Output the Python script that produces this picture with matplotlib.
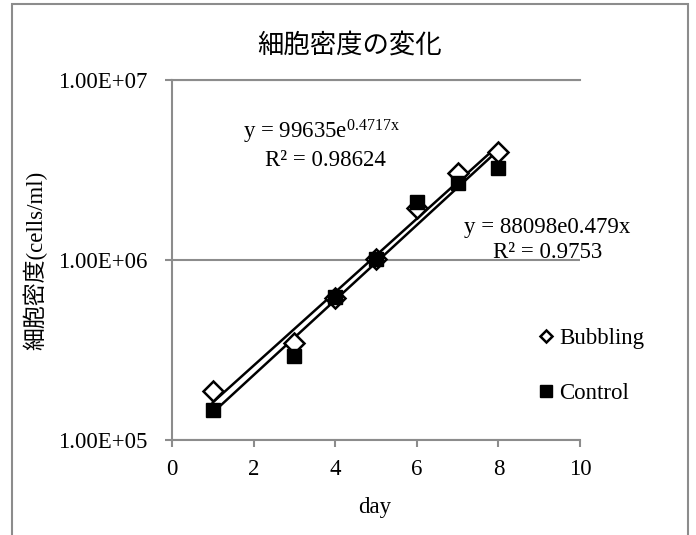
import numpy as np
import matplotlib
matplotlib.use("Agg")
import matplotlib.pyplot as plt
from matplotlib.lines import Line2D
from matplotlib.patches import Rectangle
from matplotlib.ticker import FixedLocator, FuncFormatter

plt.rcParams["mathtext.fontset"] = "custom"
plt.rcParams["mathtext.rm"] = "Liberation Serif"
plt.rcParams["mathtext.it"] = "Liberation Serif"

# ---- data ----
days = [1, 3, 4, 5, 6, 7, 8]
bubbling = [1.86e5, 3.44e5, 6.18e5, 1.01e6, 1.94e6, 3.03e6, 4.0e6]
control = [1.47e5, 2.93e5, 6.2e5, 1.01e6, 2.11e6, 2.67e6, 3.23e6]
series_names = ["Bubbling", "Control"]
title = "細胞密度の変化"
ylabel = "細胞密度(cells/ml)"
xlabel = "day"
eq_bubbling = [r"y = 99635e$^{\mathrm{0.4717x}}$", "R² = 0.98624"]
eq_control = ["y = 88098e0.479x", "R² = 0.9753"]
xticks = [0, 2, 4, 6, 8, 10]
yticks = [1e5, 1e6, 1e7]

SERIF = ["Liberation Serif", "Noto Sans CJK JP"]
CJK = ["Noto Sans CJK JP", "DejaVu Sans"]
GRAY = "#8c8c8c"
FS = 16.5

fig = plt.figure(figsize=(6.96, 5.35), dpi=100)
ax = fig.add_axes([172/696, 1-440/535, (580-172)/696, (440-80)/535])

ax.set_yscale("log")
ax.set_ylim(1e5, 1e7)
ax.set_xlim(0, 10)

# trendlines (exponential fit, least squares on log)
xs = np.linspace(min(days), max(days), 50)
for vals in (bubbling, control):
    b, a = np.polyfit(days, np.log(vals), 1)
    ax.plot(xs, np.exp(a) * np.exp(b * xs), color="black", lw=1.8, zorder=3)

ax.plot(days, bubbling, linestyle="none", marker="D", markersize=10,
        markerfacecolor="white", markeredgecolor="black", markeredgewidth=1.8, zorder=4)
ax.plot(days, control, linestyle="none", marker="s", markersize=10,
        markerfacecolor="black", markeredgecolor="black", zorder=5)

# axes styling
for s in ["top", "right"]:
    ax.spines[s].set_visible(False)
for s in ["left", "bottom"]:
    ax.spines[s].set_color(GRAY)
    ax.spines[s].set_linewidth(1.5)
ax.yaxis.set_major_locator(FixedLocator(yticks))
ax.yaxis.set_minor_locator(FixedLocator([]))
ax.yaxis.set_major_formatter(FuncFormatter(
    lambda v, p: "%.2fE+%02d" % (v / 10**int(round(np.log10(v))), int(round(np.log10(v))))))
ax.set_xticks(xticks)
ax.set_xticklabels([str(t) for t in xticks])
ax.tick_params(axis="both", which="major", direction="out", length=5, width=1.5,
               color=GRAY, labelsize=FS)
ax.tick_params(axis="y", pad=13)
ax.tick_params(axis="x", pad=9)
for lab in ax.get_xticklabels() + ax.get_yticklabels():
    lab.set_family(SERIF)
ax.grid(axis="y", which="major", color=GRAY, lw=1.5)
ax.set_axisbelow(True)
ax.axhline(1e7, color=GRAY, lw=1.5, clip_on=False, zorder=1)

# texts
fig.text(350/696, 1-45/535, title, ha="center", va="center", fontsize=19, family=CJK)
fig.text(35/696, 1-260/535, ylabel, ha="center", va="center", rotation=90,
         fontsize=16.5, family=SERIF)
fig.text(375/696, 1-508/535, xlabel, ha="center", va="center", fontsize=FS,
         family=SERIF)

fig.text(322/696, 1-132/535, eq_bubbling[0], ha="center", va="center", fontsize=FS, family=SERIF)
fig.text(325/696, 1-160/535, eq_bubbling[1], ha="center", va="center", fontsize=FS, family=SERIF)
fig.text(547/696, 1-227/535, eq_control[0], ha="center", va="center", fontsize=FS, family=SERIF)
fig.text(548/696, 1-253/535, eq_control[1], ha="center", va="center", fontsize=FS, family=SERIF)

handles = [
    Line2D([], [], linestyle="none", marker="D", markersize=6, markerfacecolor="white",
           markeredgecolor="black", markeredgewidth=1.8),
    Line2D([], [], linestyle="none", marker="s", markersize=8, markerfacecolor="black",
           markeredgecolor="black"),
]
leg = fig.legend(handles, series_names, loc="upper left",
                 bbox_to_anchor=(539/696, 1-328/535), frameon=False,
                 prop={"family": SERIF, "size": FS}, labelspacing=1.5,
                 handlelength=0.6, handletextpad=0.3, borderpad=0, borderaxespad=0)

# outer border
fig.patches.append(Rectangle((12/696, -0.02), (688-12)/696, 1.02 - 4/535,
                             transform=fig.transFigure, fill=False,
                             edgecolor=GRAY, lw=1.5))

fig.savefig("out.png", dpi=100)
